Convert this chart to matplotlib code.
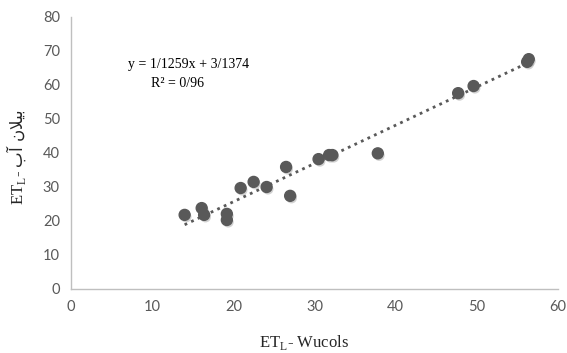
import matplotlib
matplotlib.use("Agg")
import matplotlib.pyplot as plt
import matplotlib.patheffects as pe
import numpy as np

# values
wucols = [14.0, 16.1, 16.4, 19.2, 19.2, 20.9, 22.5, 24.1, 26.5, 27.0,
          30.5, 31.8, 32.2, 37.8, 47.7, 49.6, 56.2, 56.4]
balance = [21.8, 23.8, 21.8, 22.1, 20.3, 29.7, 31.5, 30.0, 35.9, 27.4,
           38.2, 39.4, 39.4, 39.9, 57.6, 59.7, 66.8, 67.6]
slope, intercept = 1.1259, 3.1374
eq_line = "y = 1/1259x + 3/1374"
r2_line = "R² = 0/96"
xticks = [0, 10, 20, 30, 40, 50, 60]
yticks = [0, 10, 20, 30, 40, 50, 60, 70, 80]

plt.rcParams['mathtext.fontset'] = 'custom'
plt.rcParams['mathtext.rm'] = 'Liberation Serif'
plt.rcParams['mathtext.sf'] = 'DejaVu Sans'

fig = plt.figure(figsize=(5.67, 3.53), dpi=100)
ax = fig.add_axes([71 / 567, 1 - 289 / 353, 487 / 567, 272 / 353])

ax.scatter(wucols, balance, s=62, color='#595959', zorder=3,
           path_effects=[pe.SimplePatchShadow(offset=(1, -1.5), shadow_rgbFace='#7f7f7f', alpha=0.35),
                         pe.Normal()])

xs = np.array([min(wucols), max(wucols)])
ax.plot(xs, slope * xs + intercept, linestyle=(0, (1, 1.6)), color='#595959',
        linewidth=2, zorder=2)

ax.set_xlim(0, 60)
ax.set_ylim(0, 80)
ax.set_xticks(xticks)
ax.set_yticks(yticks)
for s in ['top', 'right']:
    ax.spines[s].set_visible(False)
for s in ['left', 'bottom']:
    ax.spines[s].set_color('#bfbfbf')
    ax.spines[s].set_linewidth(1)
ax.tick_params(length=0, labelsize=10.5, labelcolor='#595959', pad=8)
for lab in ax.get_xticklabels() + ax.get_yticklabels():
    lab.set_family('Lato')

ax.text(0.242, 0.824, eq_line, transform=ax.transAxes, ha='center', va='center',
        family='Liberation Serif', fontsize=10)
ax.text(0.218, 0.757, r2_line, transform=ax.transAxes, ha='center', va='center',
        family='Liberation Serif', fontsize=10)

# Persian part "بیلان آب" written in visual order with presentation forms
fa = "\uFE8F\uFE81\\ \uFEE5\uFEFC\uFEF4\uFE91"
ax.set_xlabel(r"ET$_{\mathrm{L}}$- Wucols", family='Liberation Serif', fontsize=12,
              color='#262626')
ax.xaxis.set_label_coords((304 - 71) / 487, -(343 - 289) / 272)
ax.xaxis.label.set_va('center')
fig.text(16 / 567, 1 - 157 / 353, r"ET$_{\mathrm{L}}$- $\mathsf{" + fa + "}$",
         rotation=90, ha='center', va='center', fontsize=12, color='#262626',
         family='Liberation Serif')

fig.savefig("out.png", dpi=100)
